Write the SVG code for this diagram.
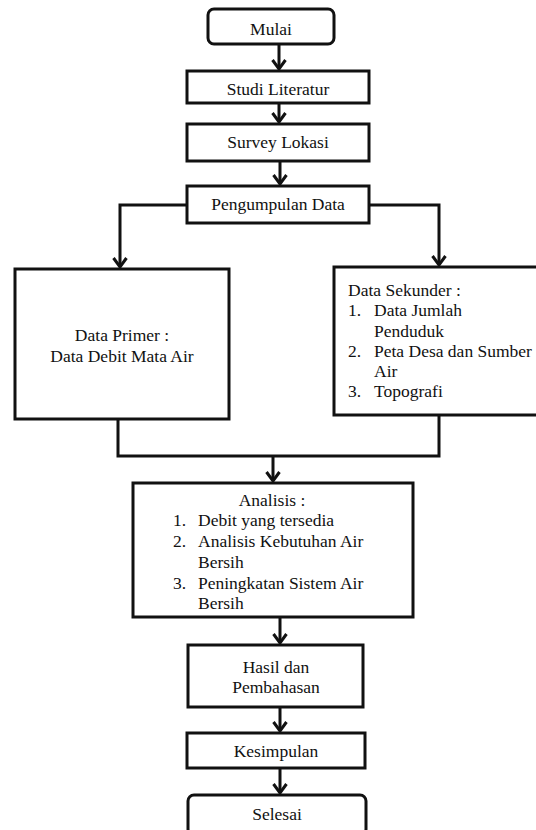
<svg xmlns="http://www.w3.org/2000/svg" width="536" height="830" viewBox="0 0 536 830">
<style>
.box{fill:#fff;stroke:#111;stroke-width:3}
text{font-family:'Liberation Serif','Times New Roman','DejaVu Serif',serif;font-size:17.5px;fill:#111}
.c{text-anchor:middle}
.conn{fill:none;stroke:#111;stroke-width:3}
</style>
<defs>
<marker id="arr" markerUnits="userSpaceOnUse" orient="auto" refX="0" refY="0" markerWidth="20" markerHeight="20" overflow="visible">
<path d="M-9,-6.5 L0,0 L-9,6.5" fill="none" stroke="#111" stroke-width="3"/>
</marker>
</defs>
<rect width="536" height="830" fill="#fff"/>
<g id="connectors" class="conn">
<path d="M279,44 V69" marker-end="url(#arr)"/>
<path d="M279,103 V122" marker-end="url(#arr)"/>
<path d="M280,161 V184" marker-end="url(#arr)"/>
<path d="M187,205 H120 V267" marker-end="url(#arr)"/>
<path d="M369,205 H439 V265" marker-end="url(#arr)"/>
<path d="M118,419 V456 H439 V415"/>
<path d="M273,456 V481" marker-end="url(#arr)"/>
<path d="M280,617 V643" marker-end="url(#arr)"/>
<path d="M280,707 V731" marker-end="url(#arr)"/>
<path d="M280,768 V793" marker-end="url(#arr)"/>
</g>
<g id="mulai">
<rect class="box" x="208" y="9" width="126" height="35" rx="6"/>
<text class="c" x="271" y="35" font-family="Liberation Serif, serif">Mulai</text>
</g>
<g id="studi">
<rect class="box" x="187" y="71" width="182" height="32"/>
<text class="c" x="278" y="95" font-family="Liberation Serif, serif">Studi Literatur</text>
</g>
<g id="survey">
<rect class="box" x="187" y="124" width="182" height="37"/>
<text class="c" x="278" y="148">Survey Lokasi</text>
</g>
<g id="pengumpulan">
<rect class="box" x="187" y="186" width="182" height="37"/>
<text class="c" x="278" y="210">Pengumpulan Data</text>
</g>
<g id="primer">
<rect class="box" x="15" y="269" width="214" height="150"/>
<text class="c" x="122" y="341">Data Primer :</text>
<text class="c" x="122" y="362">Data Debit Mata Air</text>
</g>
<g id="sekunder">
<rect class="box" x="334" y="267" width="212" height="148"/>
<text x="348" y="296">Data Sekunder :</text>
<text x="348" y="316">1.</text>
<text x="374" y="316">Data Jumlah</text>
<text x="374" y="337">Penduduk</text>
<text x="348" y="357">2.</text>
<text x="374" y="357">Peta Desa dan Sumber</text>
<text x="374" y="377">Air</text>
<text x="348" y="397">3.</text>
<text x="374" y="397">Topografi</text>
</g>
<g id="analisis">
<rect class="box" x="133" y="483" width="280" height="134"/>
<text class="c" x="272" y="506">Analisis :</text>
<text x="173" y="526">1.</text>
<text x="198" y="526">Debit yang tersedia</text>
<text x="173" y="547">2.</text>
<text x="198" y="547">Analisis Kebutuhan Air</text>
<text x="198" y="568">Bersih</text>
<text x="173" y="589">3.</text>
<text x="198" y="589">Peningkatan Sistem Air</text>
<text x="198" y="609">Bersih</text>
</g>
<g id="hasil">
<rect class="box" x="188" y="645" width="175" height="62"/>
<text class="c" x="276" y="673">Hasil dan</text>
<text class="c" x="276" y="693">Pembahasan</text>
</g>
<g id="kesimpulan">
<rect class="box" x="187" y="733" width="178" height="35"/>
<text class="c" x="276" y="757">Kesimpulan</text>
</g>
<g id="selesai">
<rect class="box" x="188" y="795" width="178" height="40" rx="6"/>
<text class="c" x="277" y="820">Selesai</text>
</g>
</svg>
